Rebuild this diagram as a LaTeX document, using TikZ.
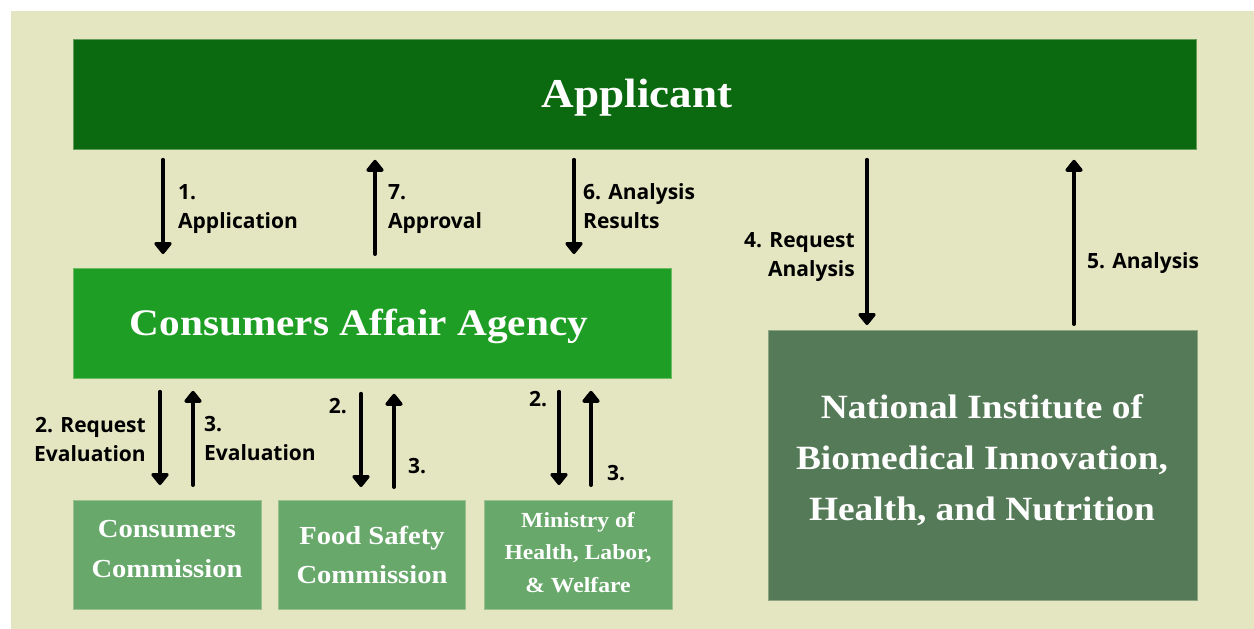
\documentclass[tikz,border=0pt]{standalone}
\usepackage{fontspec}
\usetikzlibrary{arrows.meta}
\newfontfamily\lblfont{Open Sans}
\newfontfamily\ttlfont[FakeStretch=1.1]{Liberation Serif}
\definecolor{bgc}{HTML}{E4E6C1}
\definecolor{appc}{HTML}{0B6A0F}
\definecolor{caac}{HTML}{1E9E24}
\definecolor{nibc}{HTML}{557A57}
\definecolor{subc}{HTML}{68A86B}
\begin{document}
\begin{tikzpicture}[x=1pt,y=-1pt,
  box/.style={fill=#1, draw=#1!60!bgc, line width=0.8pt, inner sep=0pt, anchor=north west},
  ttl/.style={text=white, align=center, inner sep=0pt, anchor=base, font={\ttlfont\bfseries\fontsize{#1}{#1}\selectfont}},
  lbl/.style={inner sep=0pt, align=left, anchor=base west, font={\lblfont\bfseries\fontsize{21}{29}\selectfont}},
  lblr/.style={lbl, align=right, anchor=base east},
  arr/.style={line width=4pt, line cap=round, -{Triangle[width=20pt,length=13pt,round]}}]
\useasboundingbox (0,0) rectangle (1254,629);
\fill[white] (0,0) rectangle (1254,629);
\fill[bgc] (11,11) rectangle (1254,629);

% boxes
\node[box=appc, minimum width=1123pt, minimum height=110pt] (app) at (73,39) {};
\node[box=caac, minimum width=598pt, minimum height=110pt] (caa) at (73,268) {};
\node[box=nibc, minimum width=429pt, minimum height=270pt] (nib) at (768,330) {};
\node[box=subc, minimum width=188pt, minimum height=109pt] (cc) at (73,500) {};
\node[box=subc, minimum width=187pt, minimum height=109pt] (fs) at (278,500) {};
\node[box=subc, minimum width=188pt, minimum height=109pt] (mh) at (484,500) {};

% titles (base anchor = baseline of last line)
\node[ttl=41] (tapp) at (637,107) {Applicant};
\node[ttl=37.5] (tcaa) at (359,335) {Consumers Affair Agency};
\node[ttl=34, font={\ttlfont\bfseries\fontsize{34}{51}\selectfont}] (tnib) at (982,520) {National Institute of\\Biomedical Innovation,\\Health, and Nutrition};
\node[ttl=26, font={\ttlfont\bfseries\fontsize{26}{40}\selectfont}] (tcc) at (167,577) {Consumers\\Commission};
\node[ttl=26, font={\ttlfont\bfseries\fontsize{26}{39}\selectfont}] (tfs) at (372,583) {Food Safety\\Commission};
\node[ttl=21.5, font={\ttlfont\bfseries\fontsize{21.5}{32.5}\selectfont}] (tmh) at (578,592) {Ministry of\\Health, Labor,\\\& Welfare};

% arrow columns
\coordinate (c1) at (163,0);
\coordinate (c7) at (375,0);
\coordinate (c6) at (574,0);
\coordinate (c4) at (867,0);
\coordinate (c5) at (1074,0);
\coordinate (d1) at (160,0);
\coordinate (u1) at (193,0);
\coordinate (d2) at (361,0);
\coordinate (u2) at (394,0);
\coordinate (d3) at (559,0);
\coordinate (u3) at (591,0);

\draw[arr, shorten <=10pt, shorten >=14pt] (app.south -| c1) -- (caa.north -| c1);
\draw[arr, shorten <=14pt, shorten >=10pt] (caa.north -| c7) -- (app.south -| c7);
\draw[arr, shorten <=10pt, shorten >=14pt] (app.south -| c6) -- (caa.north -| c6);
\draw[arr, shorten <=10pt, shorten >=5pt] (app.south -| c4) -- (nib.north -| c4);
\draw[arr, shorten <=6pt, shorten >=10pt] (nib.north -| c5) -- (app.south -| c5);

\draw[arr, shorten <=13pt, shorten >=15pt] (caa.south -| d1) -- (cc.north -| d1);
\draw[arr, shorten <=15pt, shorten >=12pt] (cc.north -| u1) -- (caa.south -| u1);
\draw[arr, shorten <=15pt, shorten >=13pt] (caa.south -| d2) -- (fs.north -| d2);
\draw[arr, shorten <=13pt, shorten >=15pt] (fs.north -| u2) -- (caa.south -| u2);
\draw[arr, shorten <=13pt, shorten >=15pt] (caa.south -| d3) -- (mh.north -| d3);
\draw[arr, shorten <=15pt, shorten >=12pt] (mh.north -| u3) -- (caa.south -| u3);

% labels (base anchor = baseline of last line)
\node[lbl] (l1) at (178,228) {1.\\Application};
\node[lbl] (l7) at (388,228) {7.\\Approval};
\node[lbl] (l6) at (583,228) {6. Analysis\\Results};
\node[lblr] (l4) at (855,276) {4. Request\\Analysis};
\node[lbl] (l5) at (1087,268) {5. Analysis};
\node[lblr] (l2a) at (146,461) {2. Request\\Evaluation};
\node[lbl] (l3a) at (204,460) {3.\\Evaluation};
\node[lblr] (l2b) at (347,413) {2.};
\node[lbl] (l3b) at (408,473) {3.};
\node[lbl] (l2c) at (529,406) {2.};
\node[lbl] (l3c) at (607,480) {3.};
\end{tikzpicture}
\end{document}
